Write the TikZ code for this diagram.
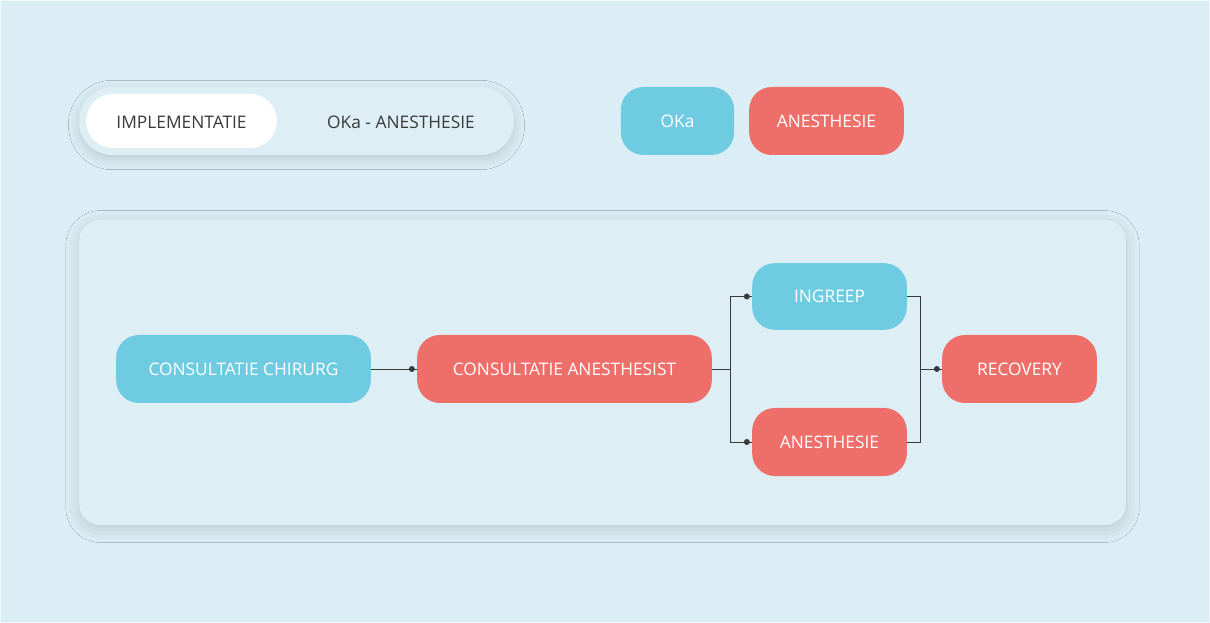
\documentclass[tikz,border=0pt]{standalone}
\usepackage{fontspec}
\setmainfont{Open Sans}
\usetikzlibrary{shadows.blur}
\definecolor{bg}{HTML}{DCEEF5}
\definecolor{panel}{HTML}{DDEEF5}
\definecolor{blu}{HTML}{6ECBE2}
\definecolor{rd}{HTML}{EE6F6A}
\definecolor{txt}{HTML}{3A3A3A}
\definecolor{ln}{HTML}{3A3A3A}
\tikzset{
  pill/.style={rounded corners=17pt, text=white, font=\fontsize{13}{15}\selectfont, inner sep=0pt, minimum height=51pt},
  bpill/.style={pill, fill=blu},
  rpill/.style={pill, fill=rd},
  conn/.style={draw=ln, line width=0.6pt},
  dot/.style={circle, fill=ln, inner sep=0pt, minimum size=4.5pt}
}
\begin{document}
\begin{tikzpicture}[x=0.75pt,y=-0.75pt]
\useasboundingbox (0,0) rectangle (1210,623);
\fill[bg] (0,0) rectangle (1210,623);
\draw[white!60!bg, line width=1pt] (0.5,0.5) rectangle (1209.5,622.5);
% toggle
\node[fill=panel, rounded corners=25pt, minimum width=326pt, minimum height=51pt, blur shadow={shadow xshift=0pt, shadow yshift=-3pt, shadow blur radius=8pt, shadow opacity=15}] (tog) at (296.5,121) {};
\node[fill=white, rounded corners=20pt, minimum width=143pt, minimum height=40.5pt] (impl) at (181.5,121) {};
\node[text=txt, font=\fontsize{13}{15}\selectfont] (implt) at (181.5,122) {IMPLEMENTATIE};
\node[text=txt, font=\fontsize{13}{15}\selectfont] (okat) at (401,122) {OKa - ANESTHESIE};
% legend
\node[bpill, minimum width=85pt] (oka) at (677.5,121) {OKa};
\node[rpill, minimum width=116pt] (anl) at (826.5,121) {ANESTHESIE};
% panel
\node[fill=panel, rounded corners=16pt, minimum width=785pt, minimum height=229pt, blur shadow={shadow xshift=0pt, shadow yshift=-3pt, shadow blur radius=10pt, shadow opacity=15}] (pan) at (602.5,372.5) {};
% nodes
\node[bpill, minimum width=191pt] (chir) at (243.5,369) {CONSULTATIE CHIRURG};
\node[rpill, minimum width=221pt] (anes) at (564.5,369) {CONSULTATIE ANESTHESIST};
\node[bpill, minimum width=116pt, minimum height=50pt] (ing) at (829.5,296.5) {INGREEP};
\node[rpill, minimum width=116pt] (an2) at (829.5,442) {ANESTHESIE};
\node[rpill, minimum width=116pt] (rec) at (1019.5,369) {RECOVERY};
% connectors
\coordinate (s1) at (730,369);
\coordinate (s2) at (920,369);
\draw[conn] (chir.east) -- (anes.west) node[dot, pos=1, xshift=-3.8pt] {};
\draw[conn] (anes.east) -- (s1);
\draw[conn] (ing.west -| s1) -- (an2.west -| s1);
\draw[conn] (ing.west -| s1) -- (ing.west) node[dot, pos=1, xshift=-3.8pt] {};
\draw[conn] (an2.west -| s1) -- (an2.west) node[dot, pos=1, xshift=-3.8pt] {};
\draw[conn] (ing.east) -- (ing.east -| s2) -- (an2.east -| s2) -- (an2.east);
\draw[conn] (s2) -- (rec.west) node[dot, pos=1, xshift=-3.8pt] {};
\end{tikzpicture}
\end{document}
